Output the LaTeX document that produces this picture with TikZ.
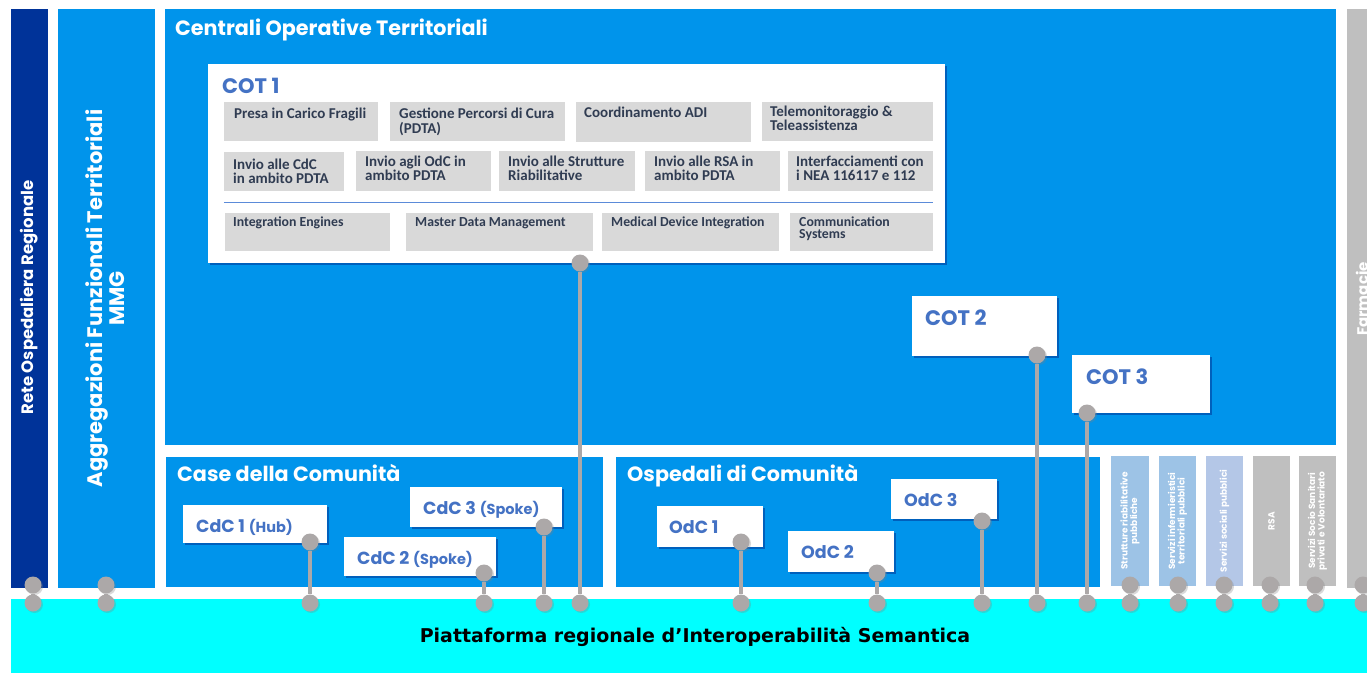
\documentclass[tikz,border=0pt]{standalone}
\usepackage{fontspec}
\setmainfont{Liberation Sans}
\newfontfamily\headfont{Poppins}
\newfontfamily\cellfont{Carlito}
\newfontfamily\platfont{DejaVu Sans}
\usetikzlibrary{shadows,fit}

\definecolor{netblue}{RGB}{0,51,153}
\definecolor{areablue}{RGB}{0,148,235}
\definecolor{labelblue}{RGB}{68,114,196}
\definecolor{cellgray}{RGB}{217,217,217}
\definecolor{celltext}{RGB}{48,60,82}
\definecolor{rulblue}{RGB}{91,139,217}
\definecolor{pubblue}{RGB}{157,195,230}
\definecolor{socblue}{RGB}{180,199,231}
\definecolor{privgray}{RGB}{191,191,191}
\definecolor{pingray}{RGB}{172,168,168}
\definecolor{platcyan}{RGB}{0,255,255}

\newcommand{\twolines}[2]{\begin{tabular}[t]{@{}l@{}}#1\\#2\end{tabular}}

\tikzset{
  area/.style={fill=#1, draw=none, inner sep=0pt},
  card/.style={fill=white, draw=none, inner sep=0pt,
    drop shadow={shadow xshift=2pt, shadow yshift=-2pt, opacity=0.35, fill=black!60!blue}},
  cell/.style={fill=cellgray, draw=none, inner sep=0pt},
  celltxt/.style={anchor=base west, inner sep=0pt, text=celltext,
    font=\cellfont\bfseries\fontsize{15}{14}\selectfont},
  celltxtsmall/.style={celltxt, font=\cellfont\bfseries\fontsize{13.8}{12.5}\selectfont},
  heading/.style={anchor=base west, inner sep=0pt, text=white,
    font=\headfont\bfseries\fontsize{20.7}{24}\selectfont},
  sitelabel/.style={anchor=base west, inner sep=0pt, text=labelblue,
    font=\headfont\bfseries\fontsize{21}{24}\selectfont},
  unitlabel/.style={anchor=base west, inner sep=0pt, text=labelblue,
    font=\headfont\bfseries\fontsize{17.5}{20}\selectfont},
  sidetxt/.style 2 args={rotate=90, align=center, inner sep=0pt, text=white,
    font=\headfont\bfseries\fontsize{#1}{#2}\selectfont},
  pin/.style={circle, fill=pingray, draw=none, inner sep=0pt, minimum size=17pt,
    drop shadow={shadow xshift=1.5pt, shadow yshift=-1.5pt, opacity=0.3}},
  wire/.style={draw=pingray, line width=3.5pt},
}

\begin{document}
\begin{tikzpicture}[x=1pt,y=-1pt]
\useasboundingbox (0,0) rectangle (1367,673);
\clip (0,0) rectangle (1367,673);

% --- vertical bands on the left and on the right
\node[area=netblue, fit={(11,9) (48,588)}] (rete) {};
\node[sidetxt={16.5}{18}] at ([yshift=1pt]rete.center) {Rete Ospedaliera Regionale};
\node[area=areablue, fit={(58,9) (155,588)}] (aft) {};
\node[sidetxt={21}{22}] at ([xshift=-1pt]aft.center) {Aggregazioni Funzionali Territoriali\\MMG};
\node[area=privgray, fit={(1347,9) (1390,588)}] (farm) {};
\node[sidetxt={15}{16}] at (1362,299) {Farmacie};

% --- main areas
\node[area=areablue, fit={(165,9) (1336,445)}] (cotarea) {};
\node[heading] at (175,35) {Centrali Operative Territoriali};
\node[area=areablue, fit={(166,457) (603,587)}] (cdcarea) {};
\node[heading] at (177,481) {Case della Comunità};
\node[area=areablue, fit={(616,457) (1100,587)}] (odcarea) {};
\node[heading] at (627,481) {Ospedali di Comunità};

% --- service columns
\node[area=pubblue, fit={(1111,456) (1149,586)}] (srp) {};
\node[sidetxt={9}{9.5}] at (srp.center) {Strutture riabilitative\\pubbliche};
\node[area=pubblue, fit={(1159,456) (1196,586)}] (sitp) {};
\node[sidetxt={9}{9.5}] at (sitp.center) {Servizi infermieristici\\territoriali pubblici};
\node[area=socblue, fit={(1206,456) (1243,586)}] (ssp) {};
\node[sidetxt={9}{9.5}] at (ssp.center) {Servizi sociali pubblici};
\node[area=privgray, fit={(1253,456) (1290,586)}] (rsa) {};
\node[sidetxt={9}{9.5}] at (rsa.center) {RSA};
\node[area=privgray, fit={(1299,456) (1336,586)}] (sssp) {};
\node[sidetxt={9}{9.5}] at (sssp.center) {Servizi Socio Sanitari\\privati e Volontariato};

% --- platform
\node[area=platcyan, fit={(11,599) (1367,673)}] (plat) {};
\node[anchor=center, inner sep=0pt, font=\platfont\bfseries\fontsize{19}{24}\selectfont] at (695,637)
  {Piattaforma regionale d’Interoperabilità Semantica};

% --- COT 1 with its functions
\node[card, fit={(208,64) (945,263)}] (cot1) {};
\node[sitelabel] at (222,93) {COT 1};

\node[cell, fit={(224,102) (378,141)}] (f1) {};
\node[celltxt] at (234,118) {Presa in Carico Fragili};
\node[cell, fit={(390,102) (565,141)}] (f2) {};
\node[celltxt] at (399,118) {\twolines{Gestione Percorsi di Cura}{(PDTA)}};
\node[cell, fit={(576,102) (751,142)}] (f3) {};
\node[celltxt] at (584,117) {Coordinamento ADI};
\node[cell, fit={(762,102) (933,141)}] (f4) {};
\node[celltxt] at (770,116) {\twolines{Telemonitoraggio \&}{Teleassistenza}};

\node[cell, fit={(224,152) (344,191)}] (g1) {};
\node[celltxt] at (233,169) {\twolines{Invio alle CdC}{in ambito PDTA}};
\node[cell, fit={(356,151) (491,191)}] (g2) {};
\node[celltxt] at (365,166) {\twolines{Invio agli OdC in}{ambito PDTA}};
\node[cell, fit={(499,151) (635,191)}] (g3) {};
\node[celltxt] at (508,166) {\twolines{Invio alle Strutture}{Riabilitative}};
\node[cell, fit={(645,151) (780,191)}] (g4) {};
\node[celltxt] at (654,166) {\twolines{Invio alle RSA in}{ambito PDTA}};
\node[cell, fit={(788,151) (933,191)}] (g5) {};
\node[celltxt] at (796,166) {\twolines{Interfacciamenti con}{i NEA 116117 e 112}};

\draw[rulblue, line width=1pt] (g1.south west |- 0,202) -- (g5.south east |- 0,202);

\node[cell, fit={(225,213) (390,251)}] (h1) {};
\node[celltxtsmall] at (233,226) {Integration Engines};
\node[cell, fit={(406,213) (593,251)}] (h2) {};
\node[celltxtsmall] at (415,226) {Master Data Management};
\node[cell, fit={(602,213) (779,251)}] (h3) {};
\node[celltxtsmall] at (611,226) {Medical Device Integration};
\node[cell, fit={(790,213) (933,251)}] (h4) {};
\node[celltxtsmall] at (799,226) {\twolines{Communication}{Systems}};

% --- other operative centres
\node[card, fit={(912,296) (1057,356)}] (cot2) {};
\node[sitelabel] at (925,325) {COT 2};
\node[card, fit={(1072,355) (1210,413)}] (cot3) {};
\node[sitelabel] at (1086,384) {COT 3};

% --- community houses
\node[card, fit={(183,505) (327,543)}] (cdc1) {};
\node[unitlabel] at (196,532) {CdC 1 {\fontsize{14.5}{16}\selectfont(Hub)}};
\node[card, fit={(344,537) (496,576)}] (cdc2) {};
\node[unitlabel] at (357,564) {CdC 2 {\fontsize{14.5}{16}\selectfont(Spoke)}};
\node[card, fit={(410,487) (562,527)}] (cdc3) {};
\node[unitlabel] at (423,514) {CdC 3 {\fontsize{14.5}{16}\selectfont(Spoke)}};

% --- community hospitals
\node[card, fit={(657,506) (763,547)}] (odc1) {};
\node[unitlabel] at (669,533) {OdC 1};
\node[card, fit={(788,531) (894,572)}] (odc2) {};
\node[unitlabel] at (801,558) {OdC 2};
\node[card, fit={(891,479) (997,519)}] (odc3) {};
\node[unitlabel] at (904,506) {OdC 3};

% --- links to the platform
\foreach \nm/\xa/\ya in {rete/33/585, aft/106/585, cdc1/310/542, cdc2/484/573, cdc3/544/527,
    cot1/580/263, odc1/741/542, odc2/877/573, odc3/982/521, cot2/1037/355, cot3/1087/413,
    srp/1130/585, sitp/1178/585, ssp/1224/585, rsa/1270/585, sssp/1315/585, farm/1363/585}{
  \node[pin] (\nm-top) at (\xa,\ya) {};
  \node[pin] (\nm-bot) at (\xa,603) {};
  \draw[wire] (\nm-top) -- (\nm-bot);
}
\end{tikzpicture}
\end{document}
